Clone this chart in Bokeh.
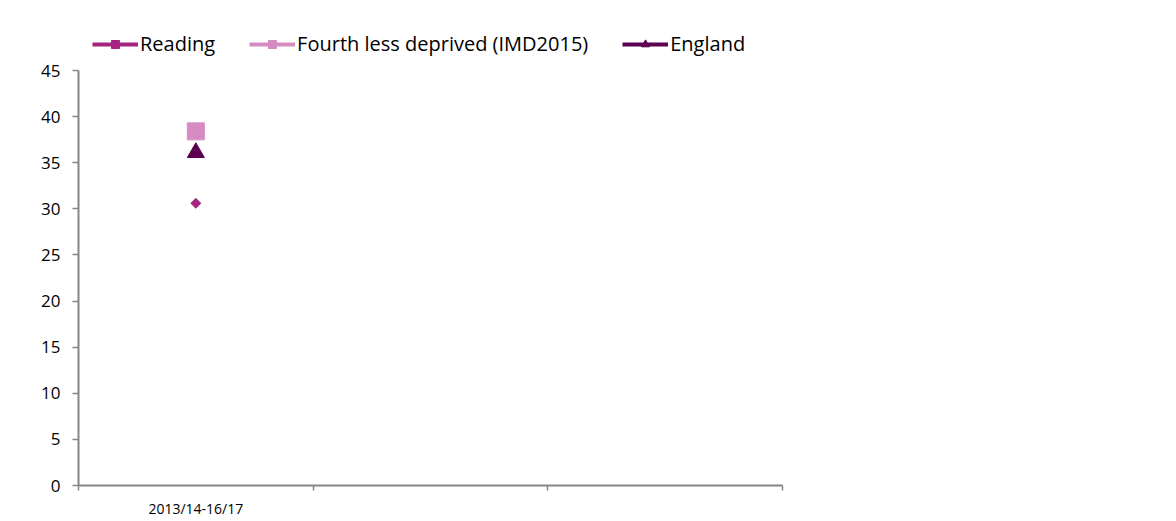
import numpy as np
from bokeh.plotting import figure
from bokeh.models import (Range1d, FixedTicker, Legend, LegendItem)
from bokeh.embed import file_html
from bokeh.resources import INLINE

# ---- data ----
periods = ["2013/14-16/17", "", ""]
reading = [30.6]
fourth_less_deprived = [38.4]
england = [36.1]
series_names = ["Reading", "Fourth less deprived (IMD2015)", "England"]
y_ticks = [0, 5, 10, 15, 20, 25, 30, 35, 40, 45]
y_max = 45

FONT = "Open Sans"
c_reading = "#a6237f"
c_fourth = "#d68cc2"
c_england = "#5c0052"

# plot area: value axis spans 415 px; 48 px of headroom above it hold the legend
AXIS_PX = 415
HEAD_PX = 48
top_val = y_max * (AXIS_PX + HEAD_PX) / AXIS_PX

p = figure(
    width=1170, height=520,
    x_range=Range1d(0, len(periods)), y_range=Range1d(0, top_val),
    output_backend="svg", toolbar_location=None,
    min_border_left=78, min_border_right=388, min_border_bottom=35, min_border_top=22,
    background_fill_color="white", border_fill_color="white",
)
p.outline_line_color = None
p.grid.visible = False

# x axis: slot boundaries as minor ticks, labels at slot centres
centres = [i + 0.5 for i in range(len(periods))]
p.xaxis.ticker = FixedTicker(ticks=centres, minor_ticks=list(range(len(periods) + 1)))
p.xaxis.major_label_overrides = {c: lab for c, lab in zip(centres, periods)}
p.xaxis.major_tick_out = 0
p.xaxis.major_tick_in = 0
p.xaxis.minor_tick_out = 5
p.xaxis.minor_tick_in = 0
p.xaxis.minor_tick_line_color = "#868686"
p.xaxis.minor_tick_line_width = 1.5
p.xaxis.axis_line_color = "#868686"
p.xaxis.axis_line_width = 2
p.xaxis.major_label_text_font = FONT
p.xaxis.major_label_text_font_size = "14px"
p.xaxis.major_label_text_color = "#000000"
p.xaxis.major_label_standoff = 8

p.yaxis.ticker = FixedTicker(ticks=y_ticks)
p.yaxis.bounds = (0, y_max)
p.yaxis.minor_tick_line_color = None
p.yaxis.major_tick_out = 6
p.yaxis.major_tick_in = 0
p.yaxis.major_tick_line_color = "#868686"
p.yaxis.major_tick_line_width = 1.5
p.yaxis.axis_line_color = "#868686"
p.yaxis.axis_line_width = 2
p.yaxis.major_label_text_font = FONT
p.yaxis.major_label_text_font_size = "17px"
p.yaxis.major_label_text_color = "#000000"
p.yaxis.major_label_standoff = 12

x0 = [centres[0]]
items = []
specs = [
    (reading, c_reading, "square", 7, np.pi / 4),
    (fourth_less_deprived, c_fourth, "square", 17, 0),
    (england, c_england, "triangle", 17, 0),
]
for name, (vals, col, marker, size, ang) in zip(series_names, specs):
    ln = p.line(x0, vals, line_color=col, line_width=4)
    sc = p.scatter(x0, vals, marker=marker, size=size, angle=ang,
                   fill_color=col, line_color=col)
    items.append(LegendItem(label=name, renderers=[ln, sc]))

legend = Legend(items=items, orientation="horizontal", location=(14, AXIS_PX + 13),
                label_text_font=FONT, label_text_font_size="20px",
                label_text_color="#000000",
                glyph_width=46, glyph_height=20, label_standoff=2, spacing=34,
                padding=0, margin=0, border_line_color=None,
                background_fill_alpha=0)
p.add_layout(legend, "center")

open("out.html", "w").write(file_html(p, INLINE))
